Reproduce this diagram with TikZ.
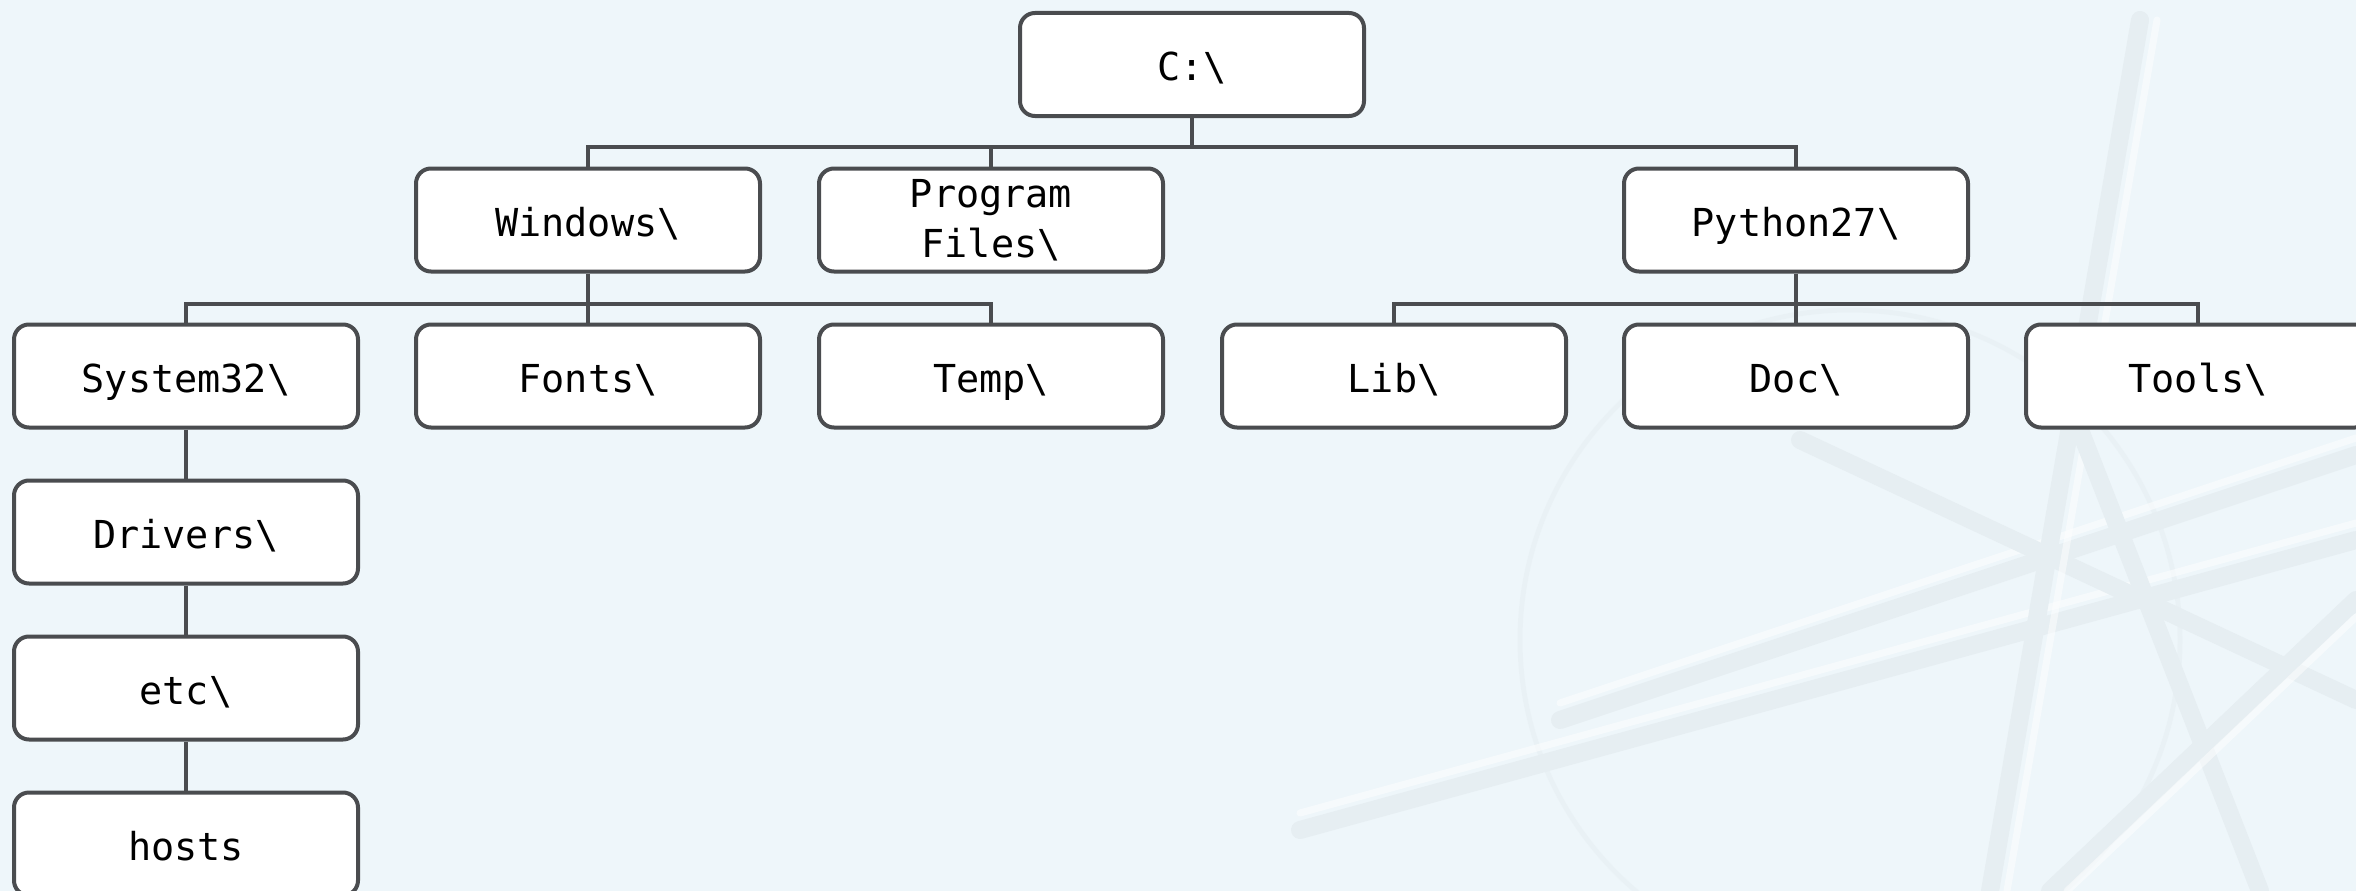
\documentclass[tikz,border=0pt]{standalone}
\usepackage{fontspec}
\newfontfamily\codefont{DejaVu Sans Mono}
\definecolor{bgcol}{HTML}{EEF6FA}
\definecolor{streak}{HTML}{E6EEF2}
\definecolor{edgecol}{HTML}{4A4C4F}
\tikzset{
  dirbox/.style={draw=edgecol, line width=4pt, fill=white, rounded corners=15pt,
    minimum width=344pt, minimum height=103pt, inner sep=0pt, align=center,
    text height=36pt, text depth=4pt,
    font=\codefont\fontsize{38.5}{50}\selectfont},
  twoline/.style={text height=, text depth=},
  link/.style={draw=edgecol, line width=4pt},
  deco/.style={draw=streak, line width=18pt, line cap=round},
  decohi/.style={draw=white, opacity=0.5, line width=7pt, line cap=round}
}
\begin{document}
\begin{tikzpicture}[x=1pt,y=-1pt]
\useasboundingbox (0,0) rectangle (2356,891);
\clip (0,0) rectangle (2356,891);
\fill[bgcol] (0,0) rectangle (2356,891);
% faint background decoration
\draw[streak, line width=5pt, opacity=0.5] (1850,640) circle (330);
\draw[deco] (1560,720) -- (2356,455);
\draw[decohi] (1560,703) -- (2356,438);
\draw[deco] (1300,830) -- (2356,540);
\draw[decohi] (1300,813) -- (2356,523);
\draw[deco] (1800,440) -- (2356,700);
\draw[deco] (1990,891) -- (2140,20);
\draw[decohi] (2007,891) -- (2157,20);
\draw[deco] (2260,891) -- (2080,430);
\draw[deco] (2050,891) -- (2356,600);
\draw[decohi] (2067,891) -- (2356,617);
% nodes
\node[dirbox] (root)  at (1192,64.5) {C:\textbackslash};
\node[dirbox] (win)   at (588,220)  {Windows\textbackslash};
\node[dirbox, twoline] (pf) at (991,220) {\vspace*{15pt}Program\\Files\textbackslash};
\node[dirbox] (py)    at (1796,220) {Python27\textbackslash};
\node[dirbox] (sys)   at (186,376)  {System32\textbackslash};
\node[dirbox] (fonts) at (588,376)  {Fonts\textbackslash};
\node[dirbox] (temp)  at (991,376)  {Temp\textbackslash};
\node[dirbox] (lib)   at (1394,376) {Lib\textbackslash};
\node[dirbox] (doc)   at (1796,376) {Doc\textbackslash};
\node[dirbox] (tools) at (2198,376) {Tools\textbackslash};
\node[dirbox] (drv)   at (186,532)  {Drivers\textbackslash};
\node[dirbox] (etc)   at (186,688)  {etc\textbackslash};
\node[dirbox] (hosts) at (186,844)  {hosts};
\coordinate (b1) at (0,147);
\coordinate (b2) at (0,303.5);
% connectors
\draw[link] (root.south) -- (root.south |- b1);
\draw[link] (win.north) -- (win.north |- b1) -- (py.north |- b1) -- (py.north);
\draw[link] (pf.north) -- (pf.north |- b1);
\draw[link] (win.south) -- (win.south |- b2);
\draw[link] (sys.north) -- (sys.north |- b2) -- (temp.north |- b2) -- (temp.north);
\draw[link] (fonts.north) -- (fonts.north |- b2);
\draw[link] (py.south) -- (py.south |- b2);
\draw[link] (lib.north) -- (lib.north |- b2) -- (tools.north |- b2) -- (tools.north);
\draw[link] (doc.north) -- (doc.north |- b2);
\draw[link] (sys.south) -- (drv.north);
\draw[link] (drv.south) -- (etc.north);
\draw[link] (etc.south) -- (hosts.north);
\end{tikzpicture}
\end{document}
